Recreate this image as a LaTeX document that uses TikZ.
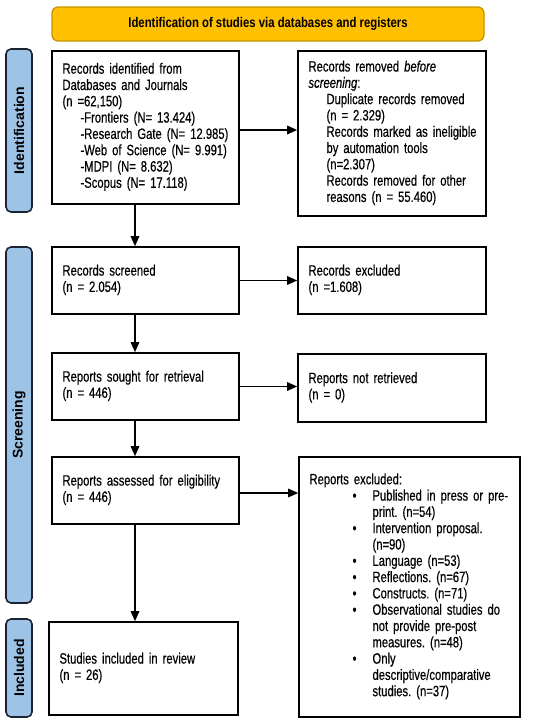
\documentclass[tikz,border=0pt]{standalone}
\usepackage{fontspec}
\setmainfont{Liberation Sans}[FakeStretch=0.75,WordSpace=0.8,FakeBold=0.4]
\newfontfamily\lblfont{Liberation Sans}
\newfontfamily\titlefont{Liberation Sans}[FakeStretch=0.81]
\usetikzlibrary{arrows.meta}
\frenchspacing
\definecolor{gold}{HTML}{FFC000}
\definecolor{goldedge}{HTML}{C49400}
\definecolor{lblue}{HTML}{9DC3E6}
\definecolor{navy}{HTML}{1A2433}
\newcommand\ind{\hspace*{18pt}}
\newcommand\bul{\hspace*{63pt}\llap{\textbullet\hspace{16pt}}}
\newcommand\bin{\hspace*{63pt}}
\newcommand\lines[1]{\begin{tabular}{@{}l@{}}#1\end{tabular}}
\begin{document}
\begin{tikzpicture}[x=1pt,y=-1pt,
  font=\fontsize{15}{16.3}\selectfont,
  box/.style={draw=black, line width=1.6pt, rectangle, inner xsep=10.5pt, inner ysep=0pt, align=left},
  lbl/.style={draw=navy, fill=lblue, line width=1.6pt, rounded corners=5pt, rotate=90, minimum height=26pt, inner sep=0pt, font=\lblfont\bfseries\fontsize{14}{16}\selectfont},
  arr/.style={line width=1.5pt, -{Triangle[length=10pt,width=8.5pt]}}]
\useasboundingbox (0,0) rectangle (550,723);
\fill[white] (0,0) rectangle (550,723);
\node[draw=goldedge, fill=gold, line width=1.2pt, rounded corners=6pt, minimum width=432pt, minimum height=34pt, inner sep=0pt, font=\titlefont\bfseries\fontsize{14}{16}\selectfont] (ban) at (268,24) {Identification of studies via databases and registers};
\node[lbl, minimum width=163pt] (lid) at (19,130.5) {Identification};
\node[lbl, minimum width=356pt] (lsc) at (19,425) {Screening};
\node[lbl, minimum width=98pt] (lin) at (19,668) {Included};
\node[box, minimum width=187pt, minimum height=153pt, text width=166pt] (b1) at (145.5,127.5) {\lines{Records identified from\\ Databases and Journals\\ (n =62,150)\\ \ind-Frontiers (N= 13.424)\\ \ind-Research Gate (N= 12.985)\\ \ind-Web of Science (N= 9.991)\\ \ind-MDPI (N= 8.632)\\ \ind-Scopus (N= 17.118)}};
\node[box, minimum width=188pt, minimum height=165pt, text width=167pt] (b2) at (392,133.5) {\lines{Records removed \textit{before}\\ \textit{screening}:\\ \ind Duplicate records removed\\ \ind (n = 2.329)\\ \ind Records marked as ineligible\\ \ind by automation tools\\ \ind (n=2.307)\\ \ind Records removed for other\\ \ind reasons (n = 55.460)}};
\node[box, minimum width=187pt, minimum height=67pt, text width=166pt] (scr) at (145.5,280.5) {\lines{Records screened\\ (n = 2.054)}};
\node[box, minimum width=188pt, minimum height=67pt, text width=167pt] (ex1) at (392,280.5) {\lines{Records excluded\\ (n =1.608)}};
\node[box, minimum width=187pt, minimum height=67pt, text width=166pt] (sgt) at (145.5,386.5) {\lines{Reports sought for retrieval\\ (n = 446)}};
\node[box, minimum width=188pt, minimum height=68pt, text width=167pt] (nr) at (392,388) {\lines{Reports not retrieved\\ (n = 0)}};
\node[box, minimum width=187pt, minimum height=67pt, text width=166pt] (ass) at (145.5,490.5) {\lines{Reports assessed for eligibility\\ (n = 446)}};
\node[box, minimum width=221pt, minimum height=260pt, text width=200pt] (ex2) at (409.5,587) {\lines{Reports excluded:\\
\bul Published in press or pre-\\ \bin print. (n=54)\\
\bul Intervention proposal.\\ \bin (n=90)\\
\bul Language (n=53)\\
\bul Reflections. (n=67)\\
\bul Constructs. (n=71)\\
\bul Observational studies do\\ \bin not provide pre-post\\ \bin measures. (n=48)\\
\bul Only\\ \bin descriptive/comparative\\ \bin studies. (n=37)}};
\node[box, minimum width=189pt, minimum height=93pt, text width=168pt] (inc) at (143.5,668.5) {\lines{Studies included in review\\ (n = 26)}};
\coordinate (ax) at (135,0);
\draw[arr] (b1.south -| ax) -- (scr.north -| ax);
\draw[arr] (scr.south -| ax) -- (sgt.north -| ax);
\draw[arr] (sgt.south -| ax) -- (ass.north -| ax);
\draw[arr] (ass.south -| ax) -- (inc.north -| ax);
\draw[arr] ([yshift=-2.5pt]b1.east) -- ([yshift=-2.5pt]b1.east -| b2.west);
\draw[arr] (scr.east) -- (scr.east -| ex1.west);
\draw[arr] (sgt.east) -- (sgt.east -| nr.west);
\draw[arr] ([yshift=-2.5pt]ass.east) -- ([yshift=-2.5pt]ass.east -| ex2.west);
\end{tikzpicture}
\end{document}
